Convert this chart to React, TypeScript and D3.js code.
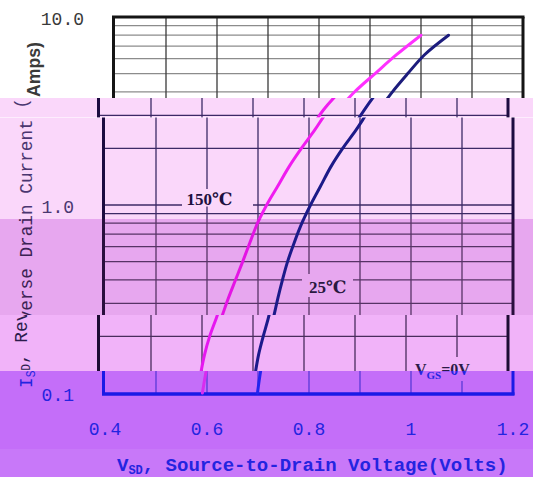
import * as d3 from "d3";
import { useEffect, useRef } from "react";

// axis values
const voltGrid = [0.4, 0.5, 0.6, 0.7, 0.8, 0.9, 1.0, 1.1, 1.2];
const voltTicks = [0.4, 0.6, 0.8, 1.0, 1.2];
const voltTickLabels = ["0.4", "0.6", "0.8", "1", "1.2"];
const currentTicks = [0.1, 1, 10];
const currentTickLabels = ["0.1", "1.0", "10.0"];
const currentGrid = [0.2, 0.3, 0.4, 0.5, 0.6, 0.7, 0.8, 0.9, 1, 2, 3, 4, 5, 6, 7, 8, 9];

// read-off current points (A), shared by both curves
const ampsRead = [0.1, 0.125, 0.16, 0.2, 0.25, 0.32, 0.4, 0.5, 0.63, 0.8, 1.0, 1.25, 1.6, 2.0, 2.5, 3.2, 4.0, 5.0, 6.3, 8.0];

// 150°C curve, V_SD at each current
const hotVolts = [0.591, 0.597, 0.605, 0.615, 0.628, 0.642, 0.656, 0.670, 0.684, 0.699, 0.717, 0.738, 0.761, 0.785, 0.811, 0.838, 0.870, 0.910, 0.952, 1.0];

// 25°C curve, V_SD at each current
const coldVolts = [0.699, 0.704, 0.711, 0.720, 0.730, 0.739, 0.748, 0.758, 0.771, 0.786, 0.803, 0.822, 0.843, 0.866, 0.892, 0.918, 0.944, 0.974, 1.007, 1.054];

type Pal = {
  bg: string; frame: string; vgrid: string; hgrid: string;
  text: string; label: string; hot: string; cold: string;
};

const white: Pal = { bg: "#ffffff", frame: "#151515", vgrid: "#3a3a3a", hgrid: "#8c8c8c", text: "#3a3a3a", label: "#1a1a1a", hot: "#ff30ff", cold: "#1c1c7c" };
const pink: Pal = { bg: "#fad7fa", frame: "#1c0c40", vgrid: "#3c2a66", hgrid: "#3c2a66", text: "#4a3670", label: "#1e1040", hot: "#f01cf0", cold: "#1c1a88" };
const mauve: Pal = { bg: "#e7a7ef", frame: "#2a0e3e", vgrid: "#573366", hgrid: "#573366", text: "#3c2254", label: "#2a1840", hot: "#e414e4", cold: "#1c1a8a" };
const pink2: Pal = { bg: "#f1b3f9", frame: "#1e0c34", vgrid: "#4a2c5e", hgrid: "#4a2c5e", text: "#2c1c4c", label: "#2a1a48", hot: "#e618f0", cold: "#1c1a8c" };
const violet: Pal = { bg: "#c46ef9", frame: "#1a1ae6", vgrid: "#5a3ad8", hgrid: "#5a3ad8", text: "#2424e0", label: "#2424e0", hot: "#d82cf0", cold: "#2424ee" };
const violet2: Pal = { ...violet, bg: "#c878f9" };

const bands = [
  { y0: 0, y1: 98, dx: 10, pal: white },
  { y0: 98, y1: 117.5, dx: -5, pal: pink },
  { y0: 117.5, y1: 219, dx: 0, pal: pink },
  { y0: 219, y1: 315, dx: 0, pal: mauve },
  { y0: 315, y1: 371, dx: -5, pal: pink2 },
  { y0: 371, y1: 449, dx: 0, pal: violet },
  { y0: 449, y1: 477, dx: 0, pal: violet2 },
];

const mono = "'Liberation Mono', 'DejaVu Sans Mono', monospace";
const serif = "'Liberation Serif', 'DejaVu Serif', serif";

export default function App() {
  const ref = useRef<SVGSVGElement>(null);

  useEffect(() => {
    const width = 533;
    const height = 477;
    const svg = d3.select(ref.current).attr("width", width).attr("height", height);
    svg.selectAll("*").remove();

    const x = d3.scaleLinear().domain([0.4, 1.2]).range([105, 513]);
    const y = d3.scaleLog().domain([0.1, 10]).range([393, 17]);

    const line = d3
      .line<[number, number]>()
      .x((d) => x(d[0]))
      .y((d) => y(d[1]))
      .curve(d3.curveCatmullRom);
    const hot = hotVolts.map((v, i) => [v, ampsRead[i]] as [number, number]);
    const cold = coldVolts.map((v, i) => [v, ampsRead[i]] as [number, number]);

    const defs = svg.append("defs");

    const drawLayer = (
      g: d3.Selection<SVGGElement, unknown, null, undefined>,
      pal: Pal,
      y0: number,
      y1: number
    ) => {
      const shows = (top: number, bottom: number) => y0 < bottom && y1 > top;

      // grid
      g.append("g")
        .selectAll("line")
        .data(currentGrid)
        .join("line")
        .attr("x1", x(0.4)).attr("x2", x(1.2))
        .attr("y1", (d) => y(d)).attr("y2", (d) => y(d))
        .attr("stroke", pal.hgrid).attr("stroke-width", 1.3);
      g.append("g")
        .selectAll("line")
        .data(voltGrid.slice(1, -1))
        .join("line")
        .attr("x1", (d) => x(d)).attr("x2", (d) => x(d))
        .attr("y1", y(10)).attr("y2", y(0.1))
        .attr("stroke", pal.vgrid).attr("stroke-width", 1.3);

      // curve labels with their backgrounds
      if (shows(189, 207)) {
        g.append("rect").attr("x", 182).attr("y", 189).attr("width", 71).attr("height", 17.5).attr("fill", pal.bg);
        g.append("text")
          .attr("x", x(0.56)).attr("y", y(1))
          .attr("font-family", serif).attr("font-weight", "bold").attr("font-size", 17)
          .attr("fill", pal.label).text("150℃");
      }
      if (shows(274, 297)) {
        g.append("rect").attr("x", 302).attr("y", 274).attr("width", 51).attr("height", 23).attr("fill", pal.bg);
        g.append("text")
          .attr("x", x(0.8)).attr("y", y(0.34))
          .attr("font-family", serif).attr("font-weight", "bold").attr("font-size", 17)
          .attr("fill", pal.label).text("25℃");
      }
      if (shows(357, 381)) {
        g.append("rect").attr("x", 414).attr("y", 357).attr("width", 64).attr("height", 24).attr("fill", pal.bg);
      }

      // frame
      g.append("line")
        .attr("x1", x(0.4) - 1.5).attr("x2", x(0.4) - 1.5)
        .attr("y1", y(10)).attr("y2", y(0.1) + 2)
        .attr("stroke", pal.frame).attr("stroke-width", 3);
      g.append("line")
        .attr("x1", x(1.2)).attr("x2", x(1.2))
        .attr("y1", y(10)).attr("y2", y(0.1) + 2)
        .attr("stroke", pal.frame).attr("stroke-width", 3);
      g.append("line")
        .attr("x1", x(0.4) - 3).attr("x2", x(1.2) + 1.5)
        .attr("y1", y(10)).attr("y2", y(10))
        .attr("stroke", pal.frame).attr("stroke-width", 3);
      g.append("line")
        .attr("x1", x(0.4) - 3).attr("x2", x(1.2) + 1.5)
        .attr("y1", y(0.1) + 1).attr("y2", y(0.1) + 1)
        .attr("stroke", pal.frame).attr("stroke-width", 3.5);

      // curves
      g.append("path").attr("d", line(hot)).attr("fill", "none")
        .attr("stroke", pal.hot).attr("stroke-width", 3).attr("stroke-linecap", "round");
      g.append("path").attr("d", line(cold)).attr("fill", "none")
        .attr("stroke", pal.cold).attr("stroke-width", 3).attr("stroke-linecap", "round");

      // y tick labels
      g.append("g")
        .selectAll("text")
        .data(currentTicks.filter((d) => shows(y(d) - 8, y(d) + 12)))
        .join("text")
        .attr("x", 74).attr("y", (d) => y(d) + 2).attr("dy", "0.35em")
        .attr("text-anchor", "end")
        .attr("font-family", mono).attr("font-size", 18)
        .attr("fill", pal.text)
        .text((d) => currentTickLabels[currentTicks.indexOf(d)]);

      // x tick labels
      if (shows(420, 438)) {
        g.append("g")
          .selectAll("text")
          .data(voltTicks)
          .join("text")
          .attr("x", (d) => x(d)).attr("y", y(0.1) + 42)
          .attr("text-anchor", "middle")
          .attr("font-family", mono).attr("font-size", 18)
          .attr("fill", pal.text)
          .text((_, i) => voltTickLabels[i]);
      }

      // x title
      if (shows(455, 476)) {
        const xt = g.append("text")
          .attr("x", 117).attr("y", 471)
          .attr("font-family", mono).attr("font-weight", "bold").attr("font-size", 19)
          .attr("fill", pal.text);
        xt.append("tspan").text("V");
        xt.append("tspan").attr("font-size", 12).attr("dy", 3).text("SD");
        xt.append("tspan").attr("dy", -3).text(", Source-to-Drain Voltage(Volts)");
      }

      // y title
      if (shows(95, 390)) {
        const yt = g.append("text")
          .attr("transform", "translate(32,388) rotate(-90)")
          .attr("font-family", mono).attr("font-size", 19)
          .attr("textLength", 290).attr("lengthAdjust", "spacingAndGlyphs")
          .attr("fill", pal.text);
        yt.append("tspan").text("I");
        yt.append("tspan").attr("font-size", 12).attr("dy", 3).text("SD");
        yt.append("tspan").attr("dy", -3).text(", Reverse Drain Current (");
      }
      if (shows(40, 98)) {
        g.append("text")
          .attr("transform", "translate(30,97) rotate(-90)")
          .attr("font-family", "'Liberation Sans Narrow', 'Liberation Sans', sans-serif")
          .attr("font-weight", "bold").attr("font-size", 18)
          .attr("textLength", 55).attr("lengthAdjust", "spacingAndGlyphs")
          .attr("fill", pal.text)
          .text("Amps)");
      }
    };

    bands.forEach((b, i) => {
      defs.append("clipPath").attr("id", `band-${i}`)
        .append("rect").attr("x", 0).attr("y", b.y0).attr("width", width).attr("height", b.y1 - b.y0);
      const g = svg.append("g").attr("clip-path", `url(#band-${i})`);
      g.append("rect").attr("x", 0).attr("y", b.y0).attr("width", width).attr("height", b.y1 - b.y0).attr("fill", b.pal.bg);
      const inner = g.append("g").attr("transform", `translate(${b.dx},0)`);
      drawLayer(inner, b.pal, b.y0, b.y1);
    });

    // V_GS label straddles two bands: one text, colour split at the band edge
    const grad = defs.append("linearGradient")
      .attr("id", "vgs-ink").attr("gradientUnits", "userSpaceOnUse")
      .attr("x1", 0).attr("x2", 0).attr("y1", 360).attr("y2", 382);
    const edge = (371 - 360) / 22;
    grad.append("stop").attr("offset", edge).attr("stop-color", pink2.label);
    grad.append("stop").attr("offset", edge).attr("stop-color", violet.label);
    const vgs = svg.append("text")
      .attr("x", 415).attr("y", 375)
      .attr("font-family", serif).attr("font-weight", "bold").attr("font-size", 16)
      .attr("fill", "url(#vgs-ink)");
    vgs.append("tspan").text("V");
    vgs.append("tspan").attr("font-size", 11).attr("dy", 4).text("GS");
    vgs.append("tspan").attr("dy", -4).text("=0V");
  }, []);

  return <svg ref={ref} style={{ position: "absolute", left: 0, top: 0, display: "block" }}></svg>;
}
